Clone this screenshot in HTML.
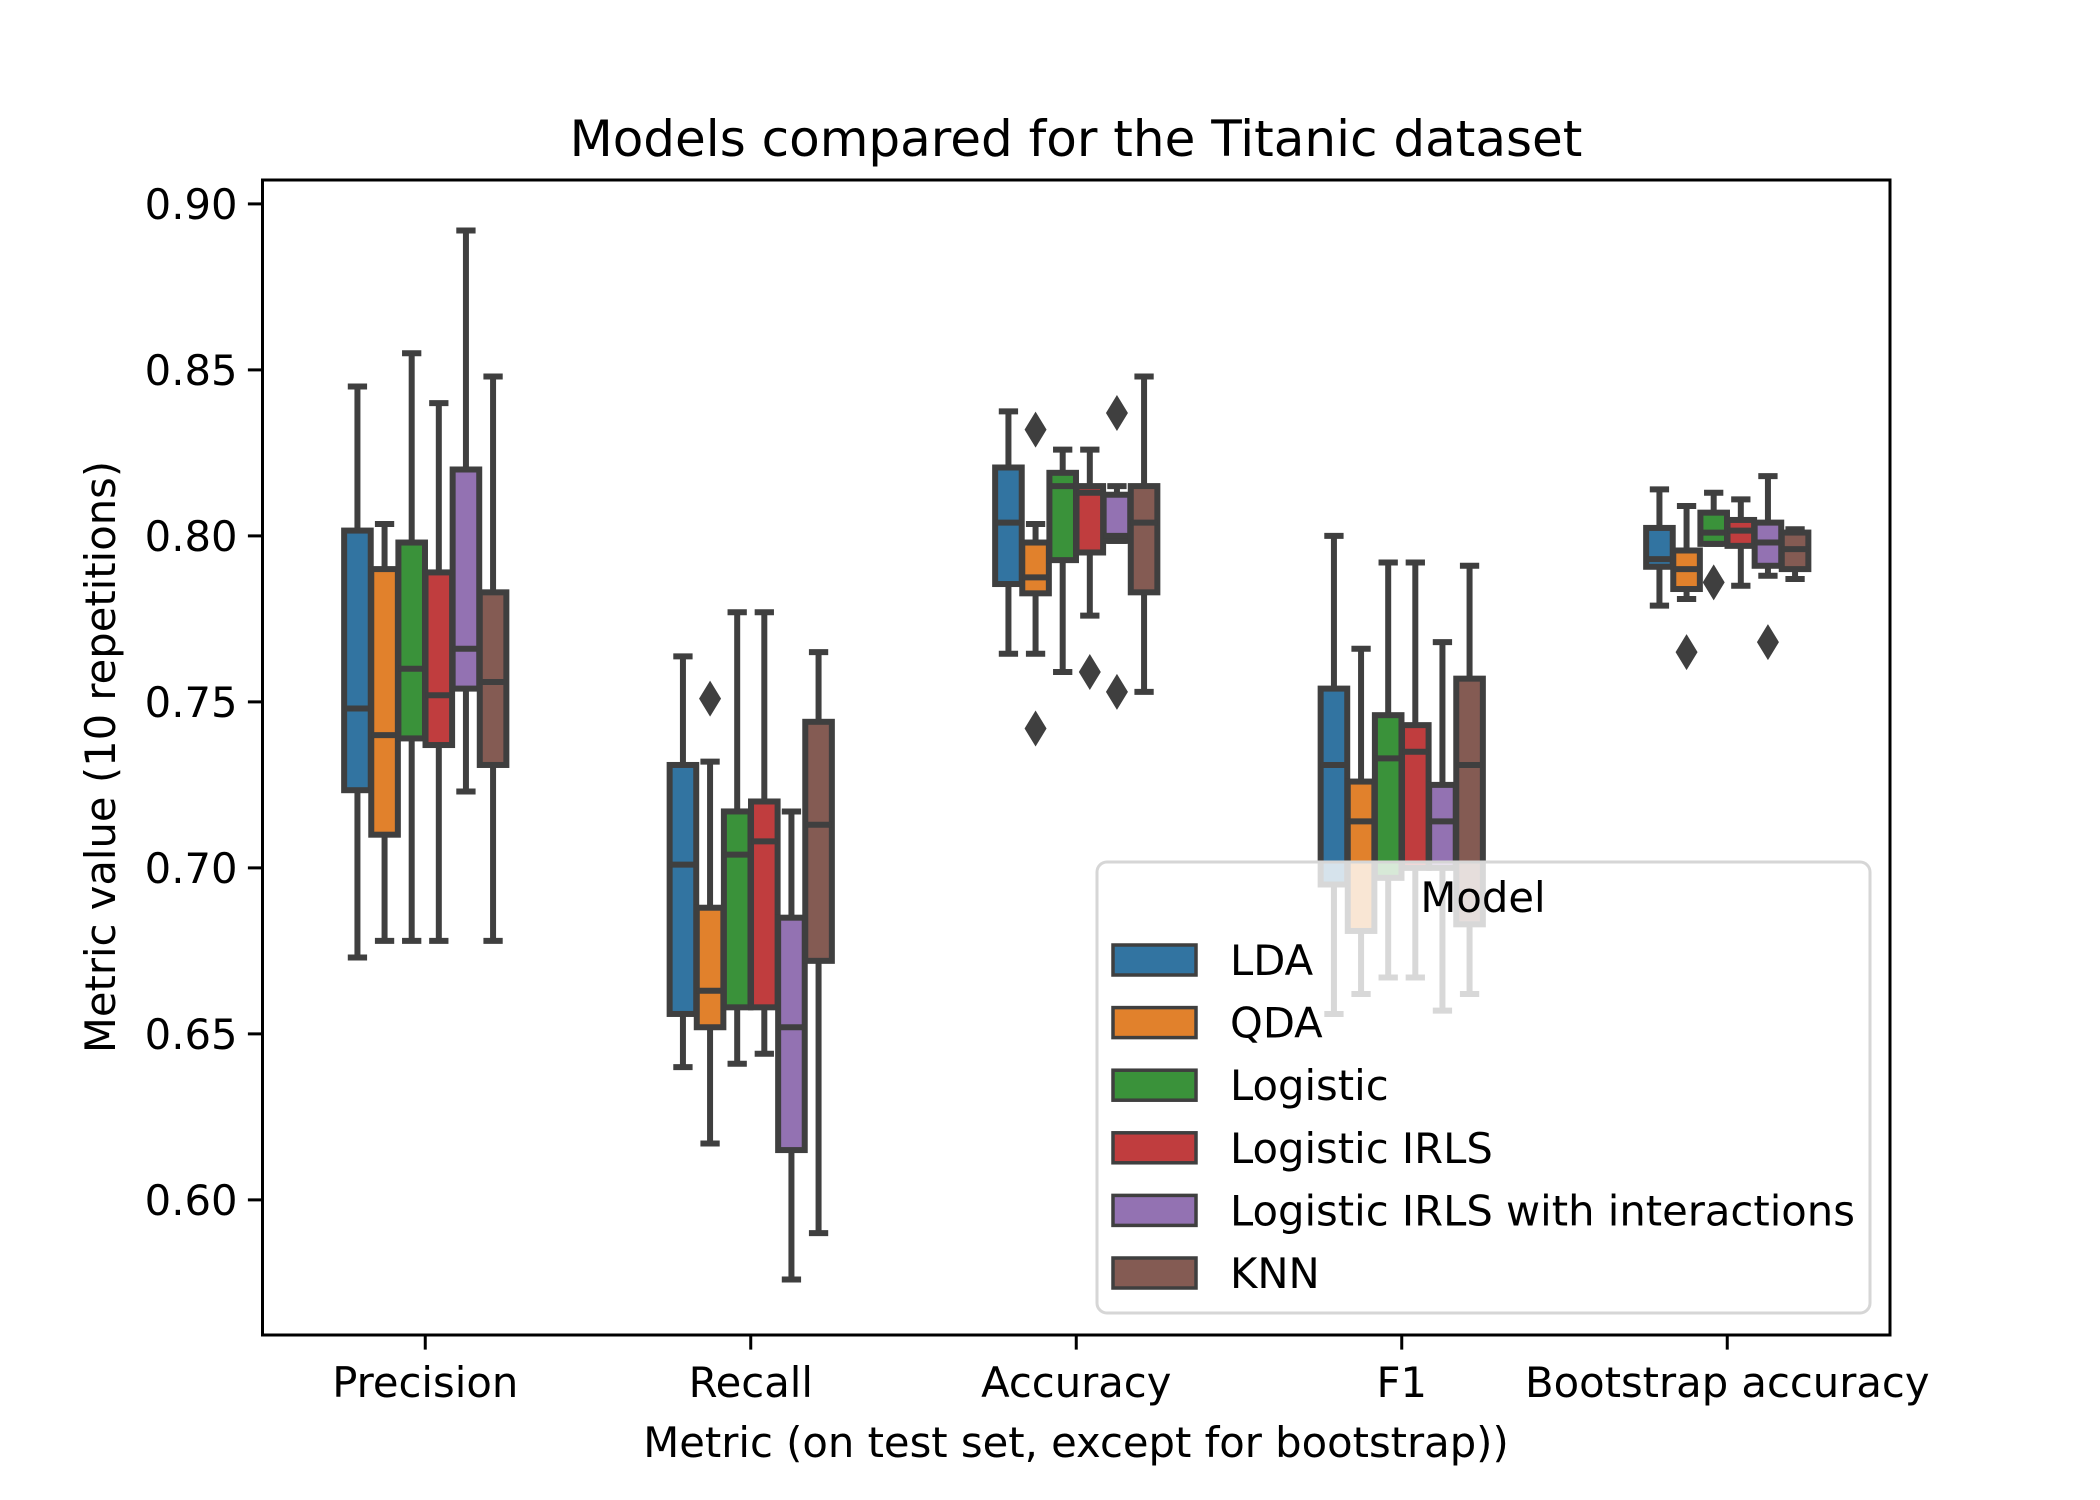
<!DOCTYPE html>
<html><head><meta charset="utf-8"><style>
html,body{margin:0;padding:0;background:#fff;}
svg{display:block;font-family:"DejaVu Sans","Liberation Sans",sans-serif;}
</style></head><body>
<svg id="chart" width="2100" height="1500" viewBox="0 0 2100 1500" xmlns="http://www.w3.org/2000/svg">
<rect width="2100" height="1500" fill="#fff"/>
<text x="1076" y="156" font-size="50" text-anchor="middle">Models compared for the Titanic dataset</text>
<text x="1076" y="1457" font-size="41.7" text-anchor="middle">Metric (on test set, except for bootstrap))</text>
<text transform="translate(115,757) rotate(-90)" font-size="41.7" text-anchor="middle">Metric value (10 repetitions)</text>
<g id="marks"></g>
<rect x="262.5" y="180" width="1627.5" height="1155" fill="none" stroke="#000" stroke-width="3"/>
<g id="legend"></g>
</svg>
<script>
const categories = ["Precision","Recall","Accuracy","F1","Bootstrap accuracy"];
const models = ["LDA","QDA","Logistic","Logistic IRLS","Logistic IRLS with interactions","KNN"];
const colors = ["#3274a1","#e1812c","#3a923a","#c03d3e","#9372b2","#845b53"];
const yTicks = [0.60,0.65,0.70,0.75,0.80,0.85,0.90];
// each entry: [whiskerLow, Q1, median, Q3, whiskerHigh]
const precisionStats = [[0.673,0.7234,0.748,0.8016,0.845],[0.678,0.710,0.740,0.790,0.8036],[0.678,0.739,0.760,0.798,0.855],[0.678,0.737,0.752,0.789,0.840],[0.723,0.754,0.766,0.820,0.892],[0.678,0.731,0.756,0.783,0.848]];
const recallStats = [[0.640,0.656,0.701,0.731,0.7637],[0.617,0.652,0.663,0.688,0.732],[0.641,0.658,0.704,0.717,0.777],[0.644,0.658,0.708,0.720,0.777],[0.576,0.615,0.652,0.685,0.717],[0.590,0.672,0.713,0.744,0.765]];
const accuracyStats = [[0.7645,0.7855,0.804,0.8206,0.8375],[0.7645,0.7827,0.7875,0.798,0.8036],[0.759,0.7927,0.815,0.819,0.826],[0.776,0.795,0.813,0.815,0.826],[0.7985,0.7985,0.800,0.8124,0.815],[0.753,0.783,0.804,0.815,0.848]];
const f1Stats = [[0.656,0.695,0.731,0.754,0.800],[0.662,0.681,0.714,0.726,0.766],[0.667,0.697,0.733,0.746,0.792],[0.667,0.700,0.735,0.743,0.792],[0.657,0.700,0.714,0.725,0.768],[0.662,0.683,0.731,0.757,0.791]];
const bootstrapStats = [[0.779,0.7907,0.793,0.8024,0.814],[0.781,0.784,0.790,0.7956,0.809],[0.7976,0.7976,0.801,0.807,0.813],[0.785,0.797,0.8016,0.8048,0.811],[0.788,0.791,0.798,0.804,0.818],[0.787,0.790,0.796,0.801,0.802]];
// outliers: [categoryIndex, modelIndex, value]
const outliers = [[1,1,0.751],[2,1,0.832],[2,1,0.742],[2,3,0.759],[2,4,0.837],[2,4,0.753],[4,1,0.765],[4,2,0.786],[4,4,0.768]];
const allStats = [precisionStats,recallStats,accuracyStats,f1Stats,bootstrapStats];

const NS="http://www.w3.org/2000/svg";
const L=262.5,R=1890,T=180,B=1335,yMin=0.5593,yMax=0.9072;
function yScale(v){return B-(v-yMin)/(yMax-yMin)*(B-T);}
const catW=(R-L)/categories.length;
function xCat(i){return L+catW*(i+0.5);}
const pitch=catW*0.5/models.length;
function xBox(i,j){return xCat(i)-pitch*models.length/2+pitch*(j+0.5);}
function mk(tag,attrs,parent){const e=document.createElementNS(NS,tag);for(const k in attrs)e.setAttribute(k,attrs[k]);parent.appendChild(e);return e;}
const svg=document.getElementById('chart');
const marks=document.getElementById('marks');
const LC="#3f3f3f";
yTicks.forEach(t=>{
  const y=yScale(t);
  const ln=mk('line',{x1:L-14.6,x2:L,y1:y,y2:y,stroke:'#000','stroke-width':3},svg);
  
  
  const tx=mk('text',{x:L-25,y:y+15,'font-size':41.7,'text-anchor':'end'},svg);
  tx.textContent=t.toFixed(2);
  
  
});
categories.forEach((c,i)=>{
  const x=xCat(i);
  const ln=mk('line',{x1:x,x2:x,y1:B,y2:B+14.6,stroke:'#000','stroke-width':3},svg);
  
  
  const tx=mk('text',{x:x,y:B+62,'font-size':41.7,'text-anchor':'middle'},svg);
  tx.textContent=c;
  
  
  models.forEach((m,j)=>{
    const s=allStats[i][j];
    const cx=xBox(i,j), w=pitch*0.98;
    const g=mk('g',{},marks);
    
    
    mk('line',{x1:cx,x2:cx,y1:yScale(s[0]),y2:yScale(s[1]),stroke:LC,'stroke-width':6},g);
    mk('line',{x1:cx,x2:cx,y1:yScale(s[3]),y2:yScale(s[4]),stroke:LC,'stroke-width':6},g);
    mk('line',{x1:cx-w/4,x2:cx+w/4,y1:yScale(s[0]),y2:yScale(s[0]),stroke:LC,'stroke-width':6,'stroke-linecap':'square'},g);
    mk('line',{x1:cx-w/4,x2:cx+w/4,y1:yScale(s[4]),y2:yScale(s[4]),stroke:LC,'stroke-width':6,'stroke-linecap':'square'},g);
    mk('rect',{x:cx-w/2,y:yScale(s[3]),width:w,height:Math.max(1,yScale(s[1])-yScale(s[3])),fill:colors[j],stroke:LC,'stroke-width':6},g);
    mk('line',{x1:cx-w/2,x2:cx+w/2,y1:yScale(s[2]),y2:yScale(s[2]),stroke:LC,'stroke-width':6},g);
  });
});
outliers.forEach(o=>{
  const cx=xBox(o[0],o[1]),cy=yScale(o[2]);
  const p=mk('polygon',{points:`${cx},${cy-18} ${cx+11},${cy} ${cx},${cy+18} ${cx-11},${cy}`,fill:LC},marks);
  
  
});
const lg=document.getElementById('legend');


mk('rect',{x:1097,y:862,width:773,height:451,rx:10,fill:'#fff','fill-opacity':0.8,stroke:'#d6d6d6','stroke-width':3},lg);
const lt=mk('text',{x:1483,y:912,'font-size':41.7,'text-anchor':'middle'},lg);
lt.textContent='Model';


models.forEach((m,j)=>{
  const cy=960+j*62.6;
  const g=mk('g',{},lg);
  
  
  mk('rect',{x:1113,y:cy-15,width:83,height:30,fill:colors[j],stroke:LC,'stroke-width':3.5},g);
  const t=mk('text',{x:1230,y:cy+15,'font-size':41.7},g);
  t.textContent=m;
});
</script>
</body></html>
